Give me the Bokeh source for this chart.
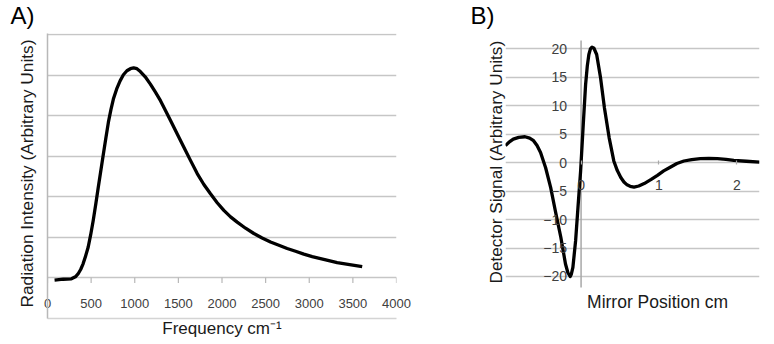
from bokeh.plotting import figure
from bokeh.layouts import row
from bokeh.models import Range1d, FixedTicker, Title
from bokeh.core.properties import value
from bokeh.embed import file_html
from bokeh.resources import INLINE

# ---------------- Panel A data ----------------
freq_a = [81, 180, 274, 320, 350, 380, 408, 436, 466, 495, 524, 553, 582, 611,
          640, 669, 698, 727, 755, 793, 832, 870, 910, 950, 987, 1025, 1064,
          1120, 1179, 1237, 1295, 1352, 1410, 1487, 1563, 1640, 1716, 1792,
          1868, 1945, 2021, 2098, 2174, 2270, 2365, 2460, 2556, 2652, 2747,
          2843, 2938, 3034, 3129, 3225, 3320, 3463, 3607]
intensity_a = [-0.06, -0.04, -0.03, 0.02, 0.09, 0.20, 0.34, 0.53, 0.75, 1.06,
               1.41, 1.81, 2.23, 2.64, 3.05, 3.45, 3.84, 4.15, 4.41, 4.66,
               4.86, 5.01, 5.11, 5.16, 5.18, 5.16, 5.09, 4.96, 4.78, 4.58,
               4.37, 4.13, 3.88, 3.55, 3.22, 2.89, 2.57, 2.30, 2.07, 1.85,
               1.66, 1.50, 1.37, 1.22, 1.09, 0.98, 0.88, 0.80, 0.72, 0.65,
               0.58, 0.52, 0.47, 0.42, 0.37, 0.32, 0.27]
a_xticks = [0, 500, 1000, 1500, 2000, 2500, 3000, 3500, 4000]
a_grid = [0, 1, 2, 3, 4, 5, 6]

# ---------------- Panel B data ----------------
pos_b = [-0.97, -0.92, -0.87, -0.80, -0.72, -0.66, -0.61, -0.565, -0.52, -0.455,
         -0.39, -0.33, -0.26, -0.20, -0.17, -0.14, -0.125, -0.105, -0.07,
         -0.04, -0.006, 0.028, 0.058, 0.08, 0.10, 0.12, 0.14, 0.165, 0.20,
         0.25, 0.30, 0.36, 0.42, 0.465, 0.51, 0.55, 0.59, 0.63, 0.68, 0.74,
         0.81, 0.90, 0.98, 1.06, 1.15, 1.23, 1.32, 1.42, 1.53, 1.64, 1.75,
         1.86, 1.96, 2.12, 2.29]
signal_b = [2.98, 3.65, 4.14, 4.45, 4.55, 4.30, 3.85, 3.0, 1.8, -0.9,
            -4.4, -8.5, -13.1, -17.8, -19.3, -20.0, -19.6, -18.4, -13.7,
            -7.9, -1.5, 6.7, 13.7, 17.0, 19.0, 20.0, 20.3, 20.1, 19.0,
            14.9, 9.6, 4.4, 0.3, -1.4, -2.6, -3.4, -3.9, -4.15, -4.3, -4.1,
            -3.68, -2.95, -2.22, -1.45, -0.76, -0.15, 0.29, 0.55, 0.70,
            0.74, 0.70, 0.58, 0.40, 0.25, 0.11]
b_yticks = [-20, -15, -10, -5, 0, 5, 10, 15, 20]
b_xticks = [0, 1, 2]

FONT = "Liberation Sans"
GRID = "#c6c6c6"
AXIS = "#b8b8b8"
TICKTXT = "#404040"
TITLE = "#1a1a1a"


def panel_title(p, text, offset):
    p.title.text = text
    p.title.text_font = FONT
    p.title.text_font_size = "24px"
    p.title.text_font_style = "normal"
    p.title.text_color = "black"
    p.title.align = "left"
    p.title.vertical_align = "top"
    p.title.offset = offset
    p.title.standoff = 3.5


def side_title(text, size, offset, standoff):
    return Title(text=text, align="left", offset=offset, vertical_align="bottom",
                 standoff=standoff, text_font=FONT, text_font_size=size,
                 text_font_style="normal", text_color=TITLE)


# ================= Panel A =================
p1 = figure(width=440, height=344, output_backend="svg", toolbar_location=None,
            x_range=Range1d(0, 4000), y_range=Range1d(-1.01, 6.03),
            min_border_left=47, min_border_right=44, min_border_top=33,
            min_border_bottom=26)
p1.outline_line_color = None
p1.background_fill_color = "white"
p1.border_fill_color = "white"
p1.xgrid.visible = False

# left axis: line only
p1.yaxis.ticker = FixedTicker(ticks=[])
p1.ygrid.ticker = FixedTicker(ticks=a_grid)
p1.ygrid.grid_line_color = GRID
p1.ygrid.grid_line_width = 1.5
p1.yaxis.axis_line_color = AXIS
p1.yaxis.axis_line_width = 1.5
p1.yaxis.major_tick_out = 0
p1.yaxis.major_tick_in = 0
p1.yaxis.major_tick_line_color = None
p1.yaxis.minor_tick_line_color = None
p1.yaxis.major_label_standoff = 0
p1.add_layout(side_title("Radiation Intensity (Arbitrary Units)", "17.3px", 11, 21), "left")

# bottom axis: border line at the bottom, tick labels lifted up under the zero line
xa = p1.xaxis[0]
xa.ticker = FixedTicker(ticks=a_xticks)
xa.axis_line_color = "#d4d4d4"
xa.axis_line_width = 1.5
xa.major_tick_line_color = None
xa.major_tick_in = 0
xa.major_tick_out = 0
xa.minor_tick_line_color = None
xa.major_label_text_font = FONT
xa.major_label_text_font_size = "13px"
xa.major_label_text_color = TICKTXT
xa.major_label_standoff = -20
xa.axis_label = "Frequency cm\u207b\u00b9"
xa.axis_label_text_font = FONT
xa.axis_label_text_font_size = "17px"
xa.axis_label_text_font_style = "normal"
xa.axis_label_text_color = TITLE
xa.axis_label_standoff = 8

# tick marks hanging under the zero line
p1.segment(x0=a_xticks, y0=[0] * len(a_xticks), x1=a_xticks,
           y1=[-0.13] * len(a_xticks), line_color=AXIS, line_width=1.2)

p1.line(freq_a, intensity_a, line_width=3.3, line_color="black", line_join="round")
panel_title(p1, "A)", -37)

# ================= Panel B =================
p2 = figure(width=334, height=344, output_backend="svg", toolbar_location=None,
            x_range=Range1d(-0.97, 2.29), y_range=Range1d(-27.38, 22.69),
            min_border_left=65, min_border_right=15, min_border_top=33,
            min_border_bottom=26)
p2.outline_line_color = None
p2.background_fill_color = "white"
p2.border_fill_color = "white"
p2.xgrid.visible = False

ya = p2.yaxis[0]
ya.fixed_location = 0
ya.ticker = FixedTicker(ticks=b_yticks)
ya.axis_line_color = None
ya.major_tick_line_color = None
ya.major_tick_in = 0
ya.major_tick_out = 0
ya.minor_tick_line_color = None
ya.major_label_text_font = FONT
ya.major_label_text_font_size = "14px"
ya.major_label_text_color = TICKTXT
ya.major_label_standoff = 14
p2.ygrid.grid_line_color = GRID
p2.ygrid.grid_line_width = 1.5
p2.add_layout(side_title("Detector Signal (Arbitrary Units)", "17.2px", 35, 0), "left")

xb = p2.xaxis[0]
xb.fixed_location = 0
xb.ticker = FixedTicker(ticks=b_xticks)
xb.axis_line_color = None
xb.major_tick_line_color = "#a8a8a8"
xb.major_tick_line_width = 1.2
xb.major_tick_in = 2
xb.major_tick_out = 2
xb.minor_tick_line_color = None
xb.major_label_text_font = FONT
xb.major_label_text_font_size = "14px"
xb.major_label_text_color = TICKTXT
xb.major_label_standoff = 15

# vertical axis line through x = 0
p2.segment(x0=[0], y0=[min(b_yticks) - 1.93], x1=[0], y1=[max(b_yticks) + 1.45],
           line_color="#a8a8a8", line_width=1.5)

p2.line(pos_b, signal_b, line_width=3.3, line_color="black", line_join="round")

p2.text(x=[0], y=[min(b_yticks)], text=["Mirror Position cm"], x_offset=6,
        y_offset=25.5, text_align="left", text_baseline="alphabetic",
        text_font=value(FONT), text_font_size="17.5px", text_color=TITLE)
panel_title(p2, "B)", -35)

layout = row(p1, p2)
open("out.html", "w").write(file_html(layout, INLINE))
